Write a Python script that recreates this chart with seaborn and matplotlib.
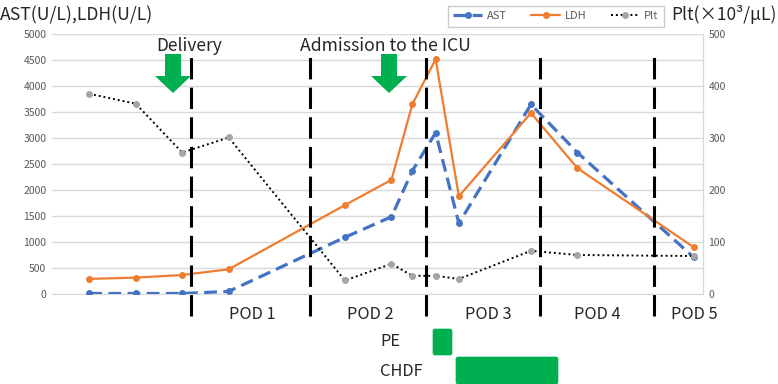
import numpy as np
import pandas as pd
import matplotlib
matplotlib.use("Agg")
import matplotlib.pyplot as plt
import matplotlib.transforms as mtransforms
from matplotlib.patches import Polygon, FancyBboxPatch
from matplotlib.lines import Line2D
import seaborn as sns

# time axis (arbitrary day-like units) and lab values
time_pts = [0.8, 1.8, 2.8, 3.8, 6.3, 7.3, 7.75, 8.25, 8.75, 10.3, 11.3, 13.8]
ast = [10, 10, 10, 50, 1090, 1485, 2370, 3100, 1360, 3645, 2720, 705]
ldh = [290, 315, 365, 475, 1710, 2195, 3650, 4515, 1880, 3480, 2420, 900]
plt_count = [385, 366, 272, 301, 26, 58, 35, 35, 29, 83, 75, 73]

pod_bounds = [3.0, 5.55, 8.05, 10.5, 12.95]
pod_labels = ["POD 1", "POD 2", "POD 3", "POD 4", "POD 5"]
pod_label_x = [4.3, 6.84, 9.38, 11.72, 13.81]

df = pd.DataFrame({"t": time_pts, "AST": ast, "LDH": ldh, "Plt": plt_count})

sns.set_style("white")
plt.rcParams["font.family"] = ["Noto Sans CJK JP", "DejaVu Sans"]

W, H = 778, 384
fig = plt.figure(figsize=(W / 100, H / 100), dpi=100)
ax = fig.add_axes([52 / W, 1 - 294 / H, 651 / W, 260 / H])
ax2 = ax.twinx()

blue = "#4472C4"
orange = "#ED7D31"
grey = "#A5A5A5"
green = "#00B050"

sns.lineplot(data=df, x="t", y="AST", ax=ax, color=blue, marker="o", markersize=5,
             markeredgewidth=0, linestyle=(0, (4, 2)), linewidth=2.3, zorder=3)
sns.lineplot(data=df, x="t", y="LDH", ax=ax, color=orange, marker="o", markersize=5,
             markeredgewidth=0, linewidth=1.6, zorder=3)
sns.lineplot(data=df, x="t", y="Plt", ax=ax2, color="black", marker="o", markersize=5,
             markerfacecolor=grey, markeredgewidth=0, linestyle=(0, (1, 1.5)), linewidth=1.4)

ax.set_xlim(0, 14)
ax.set_ylim(0, 5000)
ax2.set_ylim(0, 500)
ax.set_yticks(np.arange(0, 5001, 500))
ax2.set_yticks(np.arange(0, 501, 100))
ax.set_xticks([])
ax.set_xlabel("")
ax.set_ylabel("")
ax2.set_ylabel("")
ax.yaxis.grid(True, color="#D9D9D9", linewidth=1)
ax.set_axisbelow(True)
for a in (ax, ax2):
    a.tick_params(axis="y", length=0, labelsize=7.5, labelcolor="#595959", pad=4)
    for s in ("top", "left"):
        a.spines[s].set_visible(False)
    a.spines["bottom"].set_color("#D9D9D9")
    a.spines["right"].set_color("#D9D9D9")
ax2.spines["bottom"].set_visible(False)

# POD boundaries
for xb in pod_bounds:
    ax2.axvline(xb, ymin=-0.085, ymax=0.92, color="black", linewidth=2.2,
                linestyle=(0, (7, 2.7)), clip_on=False, zorder=5)

trans = mtransforms.blended_transform_factory(ax.transData, ax.transAxes)
for xl, lab in zip(pod_label_x, pod_labels):
    ax.text(xl, -0.045, lab, transform=trans, ha="center", va="top", fontsize=11.8)

# annotations
ax.text(2.95, 0.99, "Delivery", transform=trans, ha="center", va="top", fontsize=12.5)
ax.text(7.17, 0.99, "Admission to the ICU", transform=trans, ha="center", va="top", fontsize=12.7)


def px(x, y):
    return (x / W, 1 - y / H)


def down_arrow(cx):
    pts = [px(cx - 8, 54), px(cx + 8, 54), px(cx + 8, 76), px(cx + 18, 76),
           px(cx, 93), px(cx - 18, 76), px(cx - 8, 76)]
    fig.add_artist(Polygon(pts, closed=True, transform=fig.transFigure,
                           facecolor=green, edgecolor="none", zorder=6))


down_arrow(173)
down_arrow(389)

# axis titles
fig.text(0 / W, 1 - 15 / H, "AST(U/L),LDH(U/L)", ha="left", va="center", fontsize=12.7)
fig.text(777 / W, 1 - 15 / H, "Plt(×10³/μL)", ha="right", va="center", fontsize=12.5)

# legend
handles = [
    Line2D([], [], color=blue, linestyle=(0, (4, 2)), linewidth=2.3, marker="o",
           markersize=5, markeredgewidth=0),
    Line2D([], [], color=orange, linewidth=1.6, marker="o", markersize=5, markeredgewidth=0),
    Line2D([], [], color="black", linestyle=(0, (1, 1.5)), linewidth=1.4, marker="o",
           markersize=5, markerfacecolor=grey, markeredgewidth=0),
]
leg = fig.legend(handles, ["AST", "LDH", "Plt"], ncol=3, loc="upper center",
                 bbox_to_anchor=(556 / W, 1.0), frameon=True, fancybox=False,
                 edgecolor="#BFBFBF", fontsize=8, handlelength=2.6, columnspacing=2.2,
                 borderpad=0.5, handletextpad=0.4)
for t in leg.get_texts():
    t.set_color("#595959")

# treatment bars
fig.text(380 / W, 1 - 342 / H, "PE", ha="left", va="center", fontsize=11.8)
fig.text(380 / W, 1 - 371 / H, "CHDF", ha="left", va="center", fontsize=11.8)
for (x0, y0, x1, y1) in [(433, 329, 452, 355), (456, 357, 558, 384)]:
    fig.add_artist(FancyBboxPatch(px(x0 + 2, y1 - 2), (x1 - x0 - 4) / W, (y1 - y0 - 4) / H,
                                  boxstyle="round,pad=0.003", transform=fig.transFigure,
                                  facecolor=green, edgecolor="none", mutation_aspect=W / H))

fig.savefig("out.png", dpi=100)
